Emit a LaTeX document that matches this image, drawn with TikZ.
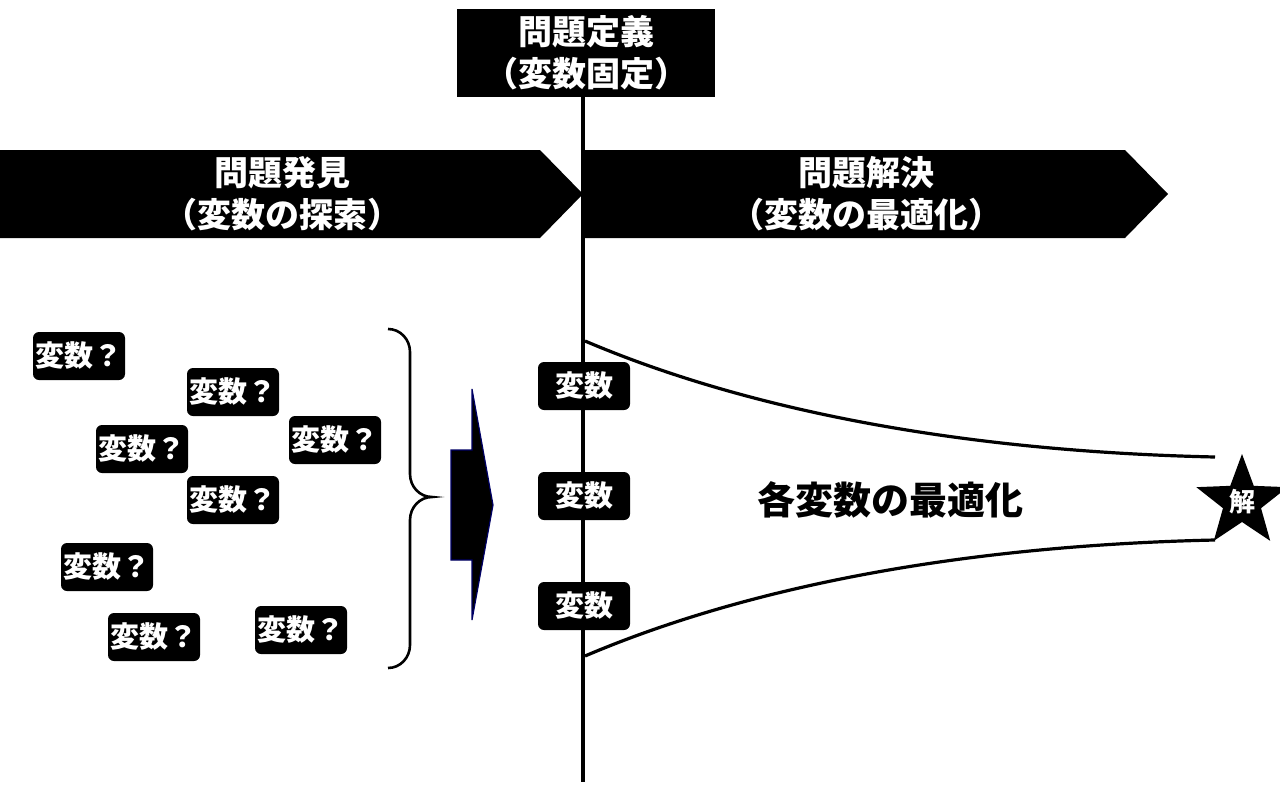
\documentclass[tikz,border=0pt]{standalone}
\usepackage{fontspec}
\setmainfont{Noto Sans CJK JP}
\usetikzlibrary{arrows.meta,positioning,shapes.geometric}

\begin{document}
\begin{tikzpicture}[x=0.5pt,y=-0.5pt,font=\bfseries,
head/.style={text=white,align=center,font=\fontsize{17}{21}\selectfont\bfseries},
var/.style={fill=black,text=white,rounded corners=3pt,minimum width=46pt,
minimum height=24pt,inner sep=0pt,font=\fontsize{14.5}{16}\selectfont\bfseries}]
\useasboundingbox (0,0) rectangle (1280,787);
% banners
\fill (0,150) -- (540,150) -- (583,194) -- (540,238) -- (0,238) -- cycle;
\fill (585,150) -- (1125,150) -- (1168,194) -- (1125,238) -- (585,238) -- cycle;
\node[head] (find) at (282,194) {問題発見\\（変数の探索）};
\node[head] (solve) at (866,194) {問題解決\\（変数の最適化）};
\draw[line width=2pt] (583,97) -- (583,782);
\node[head,fill=black,minimum width=129pt,minimum height=44pt,inner sep=0pt] (define) at (586,53) {問題定義\\（変数固定）};
% unknown variables
\node[var] (q1) at (79,356) {変数？};
\node[var] (q2) at (233,392) {変数？};
\node[var] (q3) at (142,449) {変数？};
\node[var] (q4) at (335,440) {変数？};
\node[var] (q5) at (233,500) {変数？};
\node[var] (q6) at (107,567) {変数？};
\node[var] (q7) at (154,637) {変数？};
\node[var] (q8) at (301,630) {変数？};
\draw[line width=1.3pt] (388,329) to[out=0,in=90] (410,352) -- (410,474)
  to[out=-90,in=180] (432,497) to[out=180,in=90] (410,520) -- (410,645)
  to[out=-90,in=0] (388,668);
\filldraw[fill=black,draw=blue!40!black,line width=0.6pt] (472,389) -- (493,505) -- (472,620)
  -- (472,560) -- (451,560) -- (451,450) -- (472,450) -- cycle;
% fixed variables
\node[var] (v1) at (584,386) {変数};
\node[var] (v2) at (584,496) {変数};
\node[var] (v3) at (584,606) {変数};
\node[star,star points=5,star point ratio=2.4,fill=black,text=white,minimum size=48pt,
inner sep=0pt,font=\fontsize{13}{15}\selectfont\bfseries] (ans) at (1242,502) {解};
\coordinate (top) at (585,341);
\coordinate (bot) at (585,656);
\draw[line width=1.6pt] (top) .. controls (700,390) and (900,450) .. (1215,457);
\draw[line width=1.6pt] (bot) .. controls (700,607) and (900,547) .. (1215,540);
\node[font=\fontsize{19}{22}\selectfont\bfseries] (opt) at (890,500) {各変数の最適化};
\end{tikzpicture}
\end{document}
